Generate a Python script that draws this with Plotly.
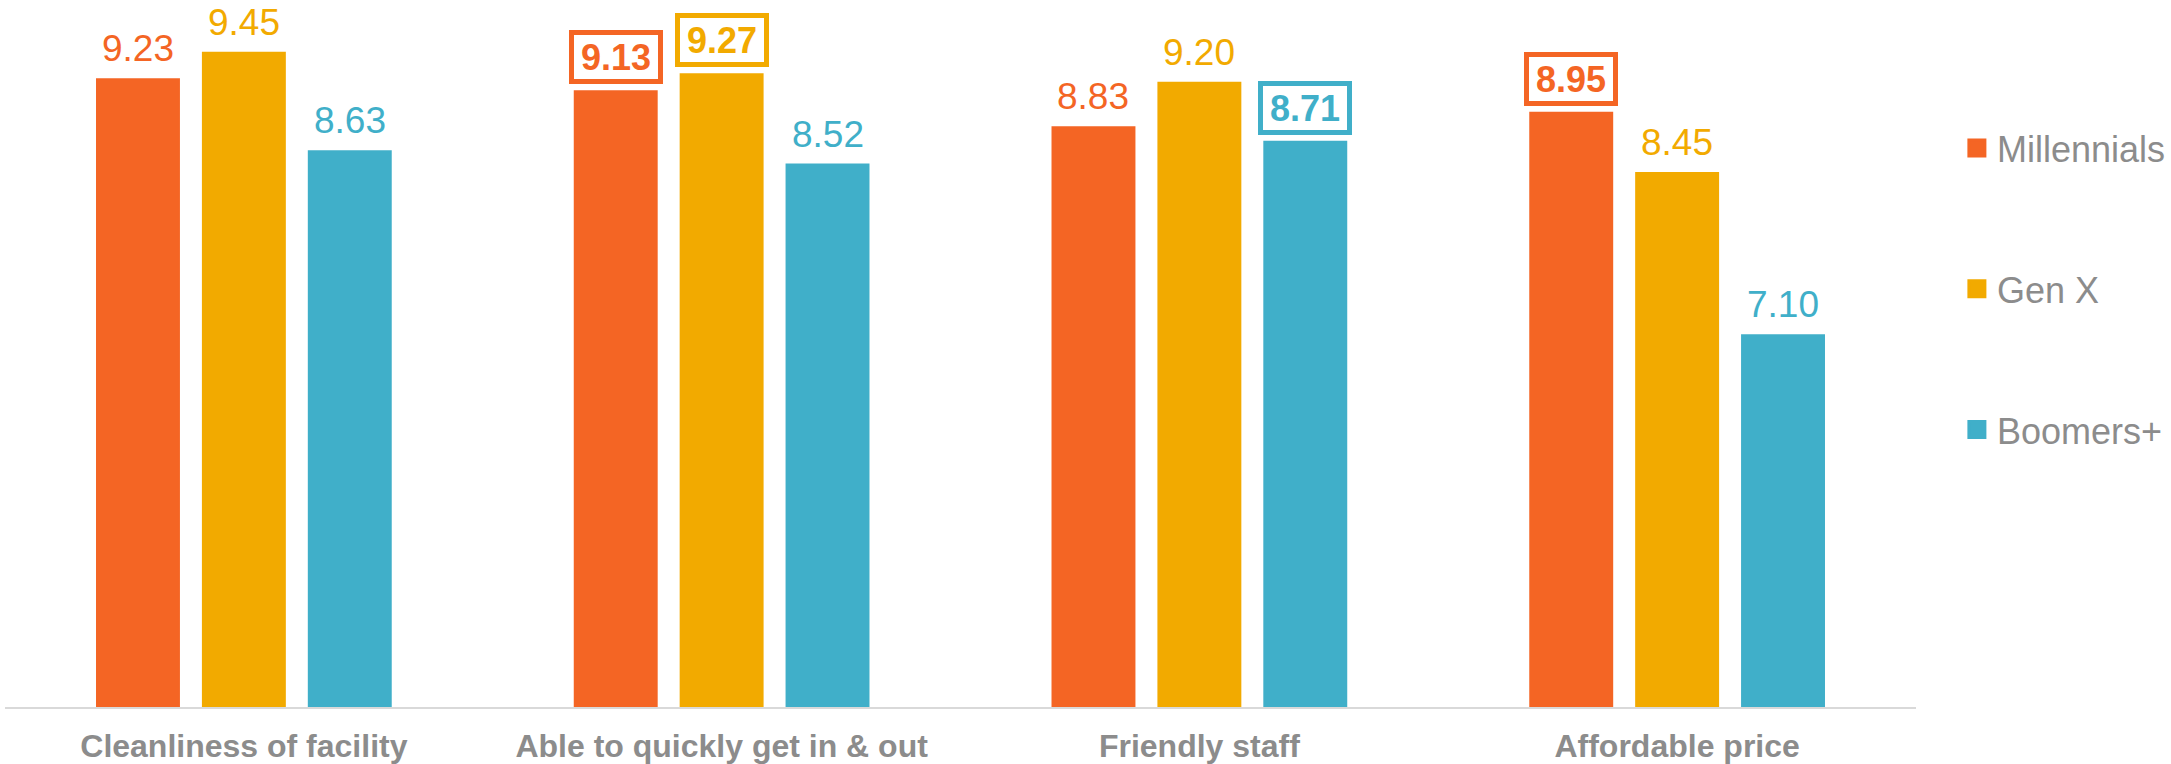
import plotly.graph_objects as go

categories = ["Cleanliness of facility", "Able to quickly get in & out", "Friendly staff", "Affordable price"]
series_names = ["Millennials", "Gen X", "Boomers+"]
millennials = [9.23, 9.13, 8.83, 8.95]
genx = [9.45, 9.27, 9.20, 8.45]
boomers = [8.63, 8.52, 8.71, 7.10]
# which labels are highlighted with a box (series index, category index)
highlighted = [(0, 1), (1, 1), (2, 2), (0, 3)]

colors = ["#F46524", "#F2AA00", "#40AFC9"]
gray = "#8C8C8C"
FONT = "Arial, Liberation Sans, sans-serif"

values = [millennials, genx, boomers]
fig = go.Figure()
for name, vals, col in zip(series_names, values, colors):
    fig.add_trace(go.Bar(x=categories, y=vals, name=name, marker=dict(color=col, line=dict(width=0)),
                         showlegend=False, hoverinfo="skip"))
# legend entries
for i, (name, col) in enumerate(zip(series_names, colors)):
    fig.add_trace(go.Scatter(x=[None], y=[None], mode="markers", name=name, legendgroup=name,
                             marker=dict(symbol="square", size=16, color=col, line=dict(width=3, color=col))))

slot_px = 106
annotations = []
for si, (vals, col) in enumerate(zip(values, colors)):
    for ci, v in enumerate(vals):
        shift = (si - 1) * slot_px
        if (si, ci) in highlighted:
            annotations.append(dict(x=categories[ci], y=v, xref="x", yref="y", text=f"<b>{v:.2f}</b>",
                                    showarrow=False, xanchor="center", yanchor="bottom", xshift=shift, yshift=6,
                                    font=dict(family=FONT, size=36, color=col),
                                    bordercolor=col, borderwidth=5, borderpad=0, bgcolor="white",
                                    width=84, height=44))
        else:
            annotations.append(dict(x=categories[ci], y=v, xref="x", yref="y", text=f"{v:.2f}",
                                    showarrow=False, xanchor="center", yanchor="bottom", xshift=shift, yshift=7,
                                    font=dict(family=FONT, size=37, color=col)))

fig.update_layout(
    width=2171, height=764,
    margin=dict(l=5, r=254, t=0, b=55),
    paper_bgcolor="white", plot_bgcolor="white",
    barmode="group", bargap=0.335, bargroupgap=0.2075,
    annotations=annotations,
    font=dict(family=FONT, color=gray),
    legend=dict(x=1.0214, y=0.833, xanchor="left", yanchor="top", tracegroupgap=91,
                font=dict(family=FONT, size=36, color=gray), bgcolor="rgba(0,0,0,0)"),
    xaxis=dict(showline=True, linecolor="#D9D9D9", linewidth=2, ticks="", showgrid=False,
               ticklabelstandoff=10,
               tickfont=dict(family=FONT, size=32, color=gray), tickprefix="<b>", ticksuffix="</b>"),
    yaxis=dict(range=[4.0, 9.88], visible=False, showgrid=False, zeroline=False),
)

fig.write_html("out.html")
